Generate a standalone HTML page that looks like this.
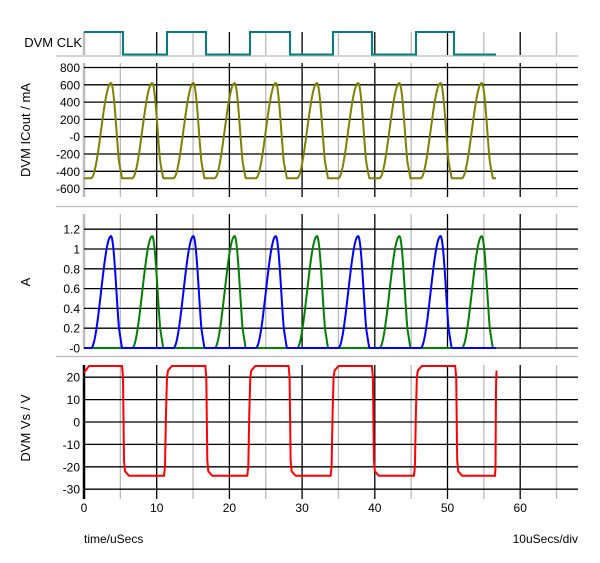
<!DOCTYPE html>
<html><head><meta charset="utf-8"><style>
body{margin:0;background:#fff}
svg{display:block}
text{font-family:"Liberation Sans",Arial,sans-serif;font-size:12px;fill:#000}
</style></head><body>
<svg id="s" width="600" height="563" xmlns="http://www.w3.org/2000/svg"></svg>
<script>
const S=document.getElementById('s');let h='';
const X=t=>84+7.27*t, R=578;
function vgrid(y1,y2,leftCol){
  for(let t=5;t<=68;t+=5){const x=X(t);h+=`<line x1="${x}" y1="${y1}" x2="${x}" y2="${y2}" stroke="${t%10?'#bbb':'#000'}" stroke-width="1.3"/>`;}
  h+=`<line x1="84" y1="${y1}" x2="84" y2="${y2}" stroke="${leftCol}" stroke-width="2.5"/>`;
}
function hline(y,lab){h+=`<line x1="84" y1="${y}" x2="${R}" y2="${y}" stroke="#000" stroke-width="1.3"/>`;
 if(lab!==undefined)h+=`<text x="80" y="${y+4.5}" text-anchor="end">${lab}</text>`;}
// separators
[56,206.5,356.5].forEach(y=>h+=`<line x1="56" y1="${y}" x2="${R}" y2="${y}" stroke="#bbb" stroke-width="1.3"/>`);
// panel1
vgrid(32,55,'#bbb');
h+=`<text x="82" y="47" text-anchor="end" style="font-size:13px">DVM CLK</text>`;
let p='M84,32';const falls=[123,206,290,372,454],rises=[167,250,333,416];
let y=32;const ev=[...falls.map(x=>[x,54.5]),...rises.map(x=>[x,32])].sort((a,b)=>a[0]-b[0]);
ev.forEach(e=>{p+=` L${e[0]},${y} L${e[0]},${e[1]}`;y=e[1];});p+=` L496,${y}`;
h+=`<path d="${p}" fill="none" stroke="#008080" stroke-width="2"/>`;
// panel2
vgrid(63,197,'#bbb');
const yI=v=>136.7-v*17.3/200;
[800,600,400,200,'-0',-200,-400,-600].forEach(v=>hline(yI(v==='-0'?0:v),v));
h+=`<text transform="translate(30,130) rotate(-90)" text-anchor="middle" style="font-size:13px">DVM ICout / mA</text>`;
const per=41.2,x0=84;
function hump(x){ // returns fraction 0..1 and active flag
  let p=(x-x0)%per, k=Math.floor((x-x0)/per);
  let f=0;
  if(p>=7&&p<27) f=(1-Math.cos(Math.PI*(p-7)/20))/2;
  else if(p>=27&&p<35) f=(1+Math.cos(Math.PI*(p-27)/11))/2;
  else if(p>=35&&p<38) f=0.08*(38-p)/3*((1+Math.cos(Math.PI*8/11))/2)/0.08;
  return [f,k];
}
let pi='',pb='',pg='';
for(let x=84;x<=496;x+=0.5){const [f,k]=hump(x);
  pi+=(pi?' L':'M')+x+','+yI(-480+1100*f).toFixed(1);
  const ya=348-(f*1.13)*99;
  pb+=(pb?' L':'M')+x+','+(k%2==0?ya:348).toFixed(1);
  pg+=(pg?' L':'M')+x+','+(k%2==1?ya:348).toFixed(1);}
h+=`<path d="${pi}" fill="none" stroke="#808000" stroke-width="2"/>`;
// panel3
vgrid(214,349,'#bbb');
const yA=v=>348-v*99;
[[1.2,'1.2'],[1,'1'],[0.8,'0.8'],[0.6,'0.6'],[0.4,'0.4'],[0.2,'0.2'],[0,'-0']].forEach(a=>hline(yA(a[0]),a[1]));
h+=`<text transform="translate(30,282) rotate(-90)" text-anchor="middle" style="font-size:13px">A</text>`;
h+=`<path d="${pg}" fill="none" stroke="#008000" stroke-width="2"/>`;
h+=`<path d="${pb}" fill="none" stroke="#0000ff" stroke-width="2"/>`;
// panel4
vgrid(365,499,'#000');
const yV=v=>422-v*2.24;
[20,10,0,-10,-20,-30].forEach(v=>hline(yV(v),v));
h+=`<text transform="translate(30,428) rotate(-90)" text-anchor="middle" style="font-size:13px">DVM Vs / V</text>`;
let pv=`M84,${yV(22)} L89,${yV(25)}`;
const P=83.3;
for(let c=0;c<5;c++){const f=122+c*P;
  pv+=` L${f},${yV(25)} L${f+1},${yV(20)} L${f+2},${yV(-17)} L${f+3},${yV(-22)} L${f+7},${yV(-24)}`;
  const r=165+c*P;
  if(c<4) pv+=` L${r-1},${yV(-24)} L${r},${yV(-20)} L${r+1},${yV(4)} L${r+2},${yV(20)} L${r+3},${yV(23)} L${r+7},${yV(25)}`;
  else pv+=` L495,${yV(-24)} L495.5,${yV(-20)} L496,${yV(15)} L496.5,${yV(23)}`;}
h+=`<path d="${pv}" fill="none" stroke="#ff0000" stroke-width="2"/>`;
for(let t=0;t<=60;t+=10)h+=`<text x="${X(t)}" y="512" text-anchor="middle">${t}</text>`;
h+=`<text x="84" y="543">time/uSecs</text><text x="578" y="543" text-anchor="end">10uSecs/div</text>`;
S.innerHTML=h;
</script>
</body></html>
